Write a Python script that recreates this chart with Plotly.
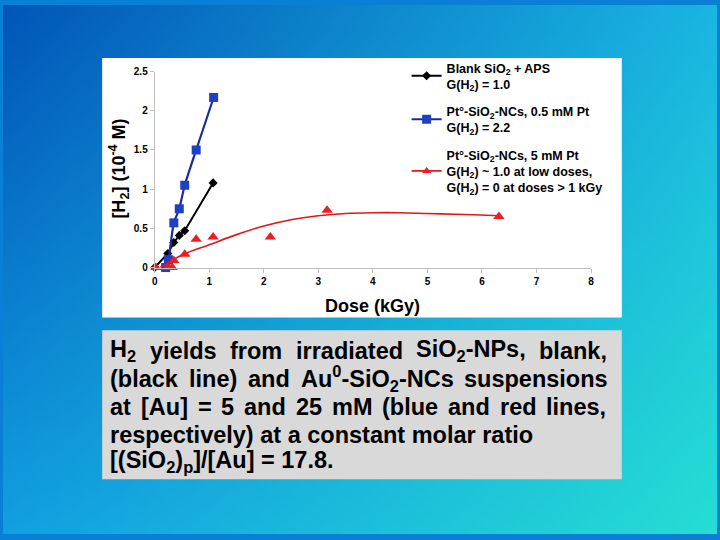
import base64, struct, zlib
import numpy as np
import plotly.graph_objects as go

W, H = 720, 540

# ---------------- data ----------------
blank_dose = [0.0, 0.24, 0.35, 0.45, 0.55, 1.07]
blank_h2 = [0.0, 0.18, 0.32, 0.41, 0.47, 1.08]

pt05_dose = [0.2, 0.25, 0.35, 0.45, 0.55, 0.76, 1.08]
pt05_h2 = [0.0, 0.10, 0.57, 0.75, 1.05, 1.50, 2.17]

pt5_dose = [0.02, 0.24, 0.32, 0.35, 0.55, 0.76, 1.07, 2.12, 3.16, 6.31]
pt5_h2 = [0.0, 0.0, 0.0, 0.09, 0.17, 0.36, 0.39, 0.39, 0.73, 0.65]

pt5_fit_dose = [0.1, 0.5, 1.0, 1.5, 2.0, 2.5, 3.0, 3.5, 4.0, 4.5, 5.0, 5.5, 6.0, 6.3]
pt5_fit_h2 = [0.0, 0.16, 0.29, 0.42, 0.53, 0.61, 0.66, 0.69, 0.70, 0.70, 0.69, 0.68, 0.67, 0.66]

names = [
    "Blank SiO<sub>2</sub> + APS<br>G(H<sub>2</sub>) = 1.0",
    "Pt°-SiO<sub>2</sub>-NCs, 0.5 mM Pt<br>G(H<sub>2</sub>) = 2.2",
    "Pt°-SiO<sub>2</sub>-NCs, 5 mM Pt<br>G(H<sub>2</sub>) ~ 1.0 at low doses,<br>G(H<sub>2</sub>) = 0 at doses &gt; 1 kGy",
]

x_title = "Dose (kGy)"
y_title = "[H<sub>2</sub>] (10<sup>-4</sup> M)"

caption_justified = [
    ["H<sub>2</sub>", "yields", "from", "irradiated", "SiO<sub>2</sub>-NPs,", "blank,"],
    ["(black", "line)", "and", "Au<sup>0</sup>-SiO<sub>2</sub>-NCs", "suspensions"],
    ["at", "[Au]", "=", "5", "and", "25", "mM", "(blue", "and", "red", "lines,"],
]
caption_plain = [
    "respectively) at a constant molar ratio",
    "[(SiO<sub>2</sub>)<sub>p</sub>]/[Au] = 17.8.",
]

# ---------------- layout helpers ----------------
def fx(p):
    return p / W

def fy(p):
    return 1 - p / H

# word start positions (px) for the justified caption lines
word_x = [
    [107, 147.2, 227.9, 294.2, 415.4, 539.2],
    [107, 186.3, 246.0, 299.2, 463.4],
    [107, 138.1, 195.3, 219.2, 242.5, 294.5, 330.8, 381.5, 447.8, 499.8, 546.6],
]
line_y = [353, 381.5, 410, 438.5, 466.5]

# ---------------- background gradient image ----------------
gw, gh = 96, 72
xs = np.linspace(0, 1, gw)[None, :, None]
ys = np.linspace(0, 1, gh)[:, None, None]
tl = np.array([2, 86, 184], float)
tr = np.array([26, 182, 226], float)
bl = np.array([18, 160, 226], float)
br = np.array([38, 222, 212], float)
img = (tl * (1 - xs) * (1 - ys) + tr * xs * (1 - ys) + bl * (1 - xs) * ys + br * xs * ys)
img = np.clip(img, 0, 255).astype(np.uint8)


def chunk(t, d):
    c = struct.pack('>I', len(d)) + t + d
    return c + struct.pack('>I', zlib.crc32(t + d) & 0xffffffff)

raw = b''.join(b'\x00' + img[r].tobytes() for r in range(gh))
png = (b'\x89PNG\r\n\x1a\n'
       + chunk(b'IHDR', struct.pack('>IIBBBBB', gw, gh, 8, 2, 0, 0, 0))
       + chunk(b'IDAT', zlib.compress(raw, 9))
       + chunk(b'IEND', b''))
src = 'data:image/png;base64,' + base64.b64encode(png).decode()

FONT = "Liberation Sans, Arial, sans-serif"

BLACK = "#000000"
BLUE_L = "#1b2a9c"
BLUE_M = "#1f3fc4"
RED_L = "#e01818"
RED_M = "#ee1c24"

fig = go.Figure()

fig.add_trace(go.Scatter(
    x=blank_dose, y=blank_h2, mode="lines+markers", name=names[0],
    legendgroup="g1",
    line=dict(color=BLACK, width=2),
    marker=dict(symbol="diamond", size=7, color=BLACK),
    cliponaxis=False,
))
fig.add_trace(go.Scatter(
    x=pt05_dose, y=pt05_h2, mode="lines+markers", name=names[1],
    legendgroup="g2",
    line=dict(color=BLUE_L, width=2.2, shape="spline", smoothing=0.6),
    marker=dict(symbol="square", size=9, color=BLUE_M),
    cliponaxis=False,
))
fig.add_trace(go.Scatter(
    x=pt5_fit_dose, y=pt5_fit_h2, mode="lines", showlegend=False,
    legendgroup="g3",
    line=dict(color=RED_L, width=1.6, shape="spline"),
    cliponaxis=False, hoverinfo="skip",
))
fig.add_trace(go.Scatter(
    x=pt5_dose, y=pt5_h2, mode="markers", showlegend=False,
    legendgroup="g3",
    marker=dict(symbol="triangle-up", size=10, color=RED_M),
    cliponaxis=False,
))
# legend entry for the red series (line + marker)
fig.add_trace(go.Scatter(
    x=[None], y=[None], mode="lines+markers", name=names[2],
    legendgroup="g3",
    line=dict(color=RED_L, width=1.6),
    marker=dict(symbol="triangle-up", size=8, color=RED_M),
))

shapes = [
    dict(type="rect", xref="paper", yref="paper", x0=fx(100), x1=fx(624), y0=fy(319), y1=fy(54),
         fillcolor="#ffffff", line=dict(width=0), layer="below"),
    dict(type="rect", xref="paper", yref="paper", x0=fx(100), x1=fx(624), y0=fy(484), y1=fy(332),
         fillcolor="#d9d9d9", line=dict(width=0), layer="below"),
]

annotations = [
    dict(text=y_title, xref="paper", yref="paper", x=fx(117), y=fy(167), textangle=-90,
         showarrow=False, xanchor="center", yanchor="middle",
         font=dict(family=FONT, size=18, color="#000", weight="bold")),
    dict(text=x_title, xref="paper", yref="paper", x=fx(373), y=fy(307),
         showarrow=False, xanchor="center", yanchor="middle",
         font=dict(family=FONT, size=18, color="#000", weight="bold")),
]

cap_font = dict(family=FONT, size=23.5, color="#000", weight="bold")
for li, words in enumerate(caption_justified):
    for w, xp in zip(words, word_x[li]):
        annotations.append(dict(text=w, xref="paper", yref="paper", x=fx(xp), y=fy(line_y[li]),
                                showarrow=False, xanchor="left", yanchor="middle",
                                borderpad=0, font=cap_font))
for k, t in enumerate(caption_plain):
    annotations.append(dict(text=t, xref="paper", yref="paper", x=fx(107), y=fy(line_y[3 + k]),
                            showarrow=False, xanchor="left", yanchor="middle",
                            borderpad=0, font=cap_font))

fig.update_layout(
    width=W, height=H, autosize=False,
    margin=dict(l=0, r=0, t=0, b=0, pad=0),
    paper_bgcolor="#0a7fd6",
    plot_bgcolor="rgba(0,0,0,0)",
    images=[dict(source=src, xref="paper", yref="paper", x=0, y=1, sizex=1, sizey=1,
                 sizing="stretch", layer="below", xanchor="left", yanchor="top")],
    shapes=shapes,
    annotations=annotations,
    showlegend=True,
    legend=dict(x=fx(407), y=fy(49), xanchor="left", yanchor="top",
                bgcolor="rgba(0,0,0,0)", borderwidth=0,
                traceorder="grouped", tracegroupgap=8,
                font=dict(family=FONT, size=12.5, color="#000", weight="bold")),
    xaxis=dict(domain=[fx(153), fx(593)], range=[0, 8], dtick=1, tick0=0,
               showline=True, linecolor="#bfbfbf", linewidth=1,
               ticks="outside", ticklen=4, tickcolor="#bfbfbf",
               showgrid=False, zeroline=False, fixedrange=True,
               tickfont=dict(family=FONT, size=10, color="#000", weight="bold")),
    yaxis=dict(domain=[fy(268), fy(68)], range=[0, 2.5], dtick=0.5, tick0=0,
               showline=True, linecolor="#bfbfbf", linewidth=1,
               ticks="outside", ticklen=4, tickcolor="#bfbfbf",
               showgrid=False, zeroline=False, fixedrange=True,
               tickfont=dict(family=FONT, size=10, color="#000", weight="bold")),
)

fig.write_html(
    "out.html",
    config={"displayModeBar": False},
    post_script="document.body.style.margin='0';document.body.style.padding='0';"
                "document.body.style.overflow='hidden';",
)
